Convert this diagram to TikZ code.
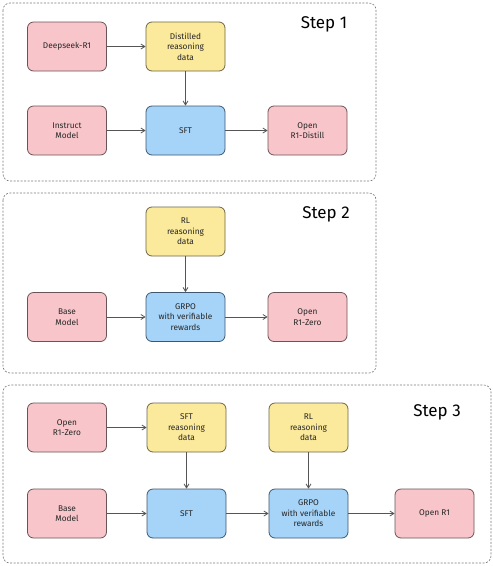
\documentclass[tikz,border=0pt]{standalone}
\usepackage{fontspec}
\setmainfont{Fira Sans}
\usetikzlibrary{arrows.meta}
\definecolor{pinkf}{HTML}{F8C6CA}
\definecolor{pinkd}{HTML}{6B5456}
\definecolor{yelf}{HTML}{FBE99C}
\definecolor{yeld}{HTML}{6E6744}
\definecolor{bluef}{HTML}{A6D3F8}
\definecolor{blued}{HTML}{3F5870}
\definecolor{arr}{HTML}{555555}
\definecolor{frm}{HTML}{7A7A7A}
\tikzset{
  box/.style={rounded corners=6pt, minimum width=79pt, minimum height=49pt, align=center,
    font=\fontsize{8.3}{10.5}\selectfont, text=black!85, line width=0.8pt, inner sep=2pt},
  pinkbox/.style={box, fill=pinkf, draw=pinkd},
  yelbox/.style={box, fill=yelf, draw=yeld},
  bluebox/.style={box, fill=bluef, draw=blued},
  frame/.style={draw=frm, dashed, line width=0.6pt, rounded corners=7pt, dash pattern=on 2pt off 1.5pt},
  steplabel/.style={font=\fontsize{17}{20}\selectfont, text=black},
  conn/.style={draw=arr, line width=0.8pt, -{Straight Barb[length=4pt,width=5pt]}}
}
\begin{document}
\begin{tikzpicture}[x=1pt,y=-1pt]
\useasboundingbox (0,0) rectangle (493,566);
\fill[white] (0,0) rectangle (493,566);

% Step 1
\draw[frame] (3,3) rectangle (376,181);
\node[steplabel] (s1) at (324,24) {Step 1};
\node[pinkbox] (ds) at (67,46.5) {Deepseek-R1};
\node[yelbox] (dist) at (185.5,46.5) {Distilled\\reasoning\\data};
\node[pinkbox] (inst) at (67,130.5) {Instruct\\Model};
\node[bluebox] (sft1) at (185.5,130.5) {SFT};
\node[pinkbox] (od) at (307.5,130.5) {Open\\R1-Distill};
\draw[conn] (ds) -- (dist);
\draw[conn] (dist) -- (sft1);
\draw[conn] (inst) -- (sft1);
\draw[conn] (sft1) -- (od);

% Step 2
\draw[frame] (3,193) rectangle (376,373);
\node[steplabel] (s2) at (326,214) {Step 2};
\node[yelbox] (rl2) at (185.5,231.5) {RL\\reasoning\\data};
\node[pinkbox] (base2) at (67,317) {Base\\Model};
\node[bluebox] (grpo2) at (185.5,317) {GRPO\\with verifiable\\rewards};
\node[pinkbox] (oz2) at (307.5,317) {Open\\R1-Zero};
\draw[conn] (rl2) -- (grpo2);
\draw[conn] (base2) -- (grpo2);
\draw[conn] (grpo2) -- (oz2);

% Step 3
\draw[frame] (3,385) rectangle (491,563);
\node[steplabel] (s3) at (437,412) {Step 3};
\node[pinkbox] (oz3) at (67,427.5) {Open\\R1-Zero};
\node[yelbox] (sftd) at (186.5,427.5) {SFT\\reasoning\\data};
\node[yelbox] (rl3) at (308.5,427.5) {RL\\reasoning\\data};
\node[pinkbox] (base3) at (67,513.5) {Base\\Model};
\node[bluebox] (sft3) at (186.5,513.5) {SFT};
\node[bluebox] (grpo3) at (308.5,513.5) {GRPO\\with verifiable\\rewards};
\node[pinkbox] (or1) at (434.5,513.5) {Open R1};
\draw[conn] (oz3) -- (sftd);
\draw[conn] (sftd) -- (sft3);
\draw[conn] (rl3) -- (grpo3);
\draw[conn] (base3) -- (sft3);
\draw[conn] (sft3) -- (grpo3);
\draw[conn] (grpo3) -- (or1);
\end{tikzpicture}
\end{document}
